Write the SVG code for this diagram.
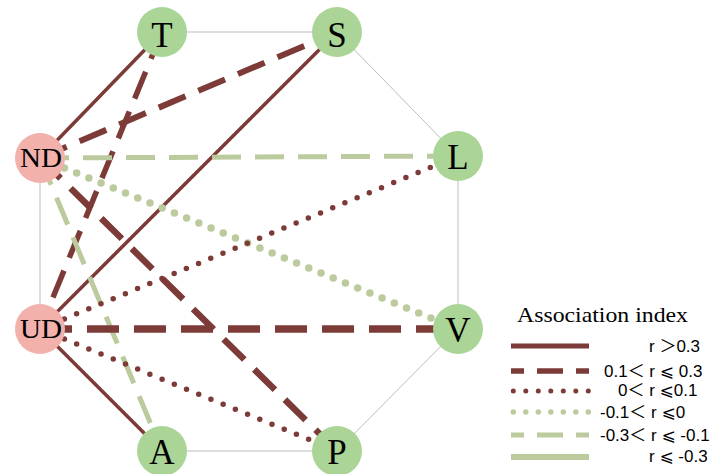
<svg xmlns="http://www.w3.org/2000/svg" width="712" height="474" viewBox="0 0 712 474">
<style>
.frame{fill:none;stroke:#bdbdbd;stroke-width:1}
.c{fill:none;stroke-linecap:butt}
.pr{stroke:#7d3b38}
.ng{stroke:#bccb9e}
.solid{stroke-width:3.5}
.dash{stroke-width:6;stroke-dasharray:29 14}
.dot{stroke-width:5.5;stroke-dasharray:0 13.2;stroke-linecap:round}
.gdot{stroke-width:7.5;stroke-dasharray:0 13.2;stroke-linecap:round}
.gdash{stroke-width:5;stroke-dasharray:29 14}
.ng-node{fill:#aad596}
.pk-node{fill:#f2b1ab}
.big{font-family:"Liberation Serif","Times New Roman",serif;font-size:35px;fill:#000;text-anchor:middle}
.small{font-family:"Liberation Serif","Times New Roman",serif;font-size:27px;fill:#000;text-anchor:middle}
.lt{font-family:"Liberation Serif","Times New Roman",serif;font-size:21px;fill:#000}
.lg{font-family:"Liberation Sans","Noto Sans CJK SC","DejaVu Sans",sans-serif;font-size:17px;fill:#000}
</style>
<rect width="712" height="474" fill="#fff"/>
<polygon class="frame" points="162,32 337,32 458,156 458,329 337,451 162,451 40,329 40,158"/>
<g id="connectors">
<line class="c pr solid" x1="40" y1="158" x2="162" y2="32"/>
<line class="c pr dash" x1="40" y1="158" x2="337" y2="32"/>
<line class="c pr dash" style="stroke-width:5.5" x1="162" y1="32" x2="40" y2="329"/>
<line class="c pr solid" x1="337" y1="32" x2="40" y2="329"/>
<line class="c ng gdash" x1="40" y1="158" x2="458" y2="156"/>
<line class="c ng gdot" x1="40" y1="158" x2="458" y2="329"/>
<line class="c ng gdash" x1="40" y1="158" x2="162" y2="451"/>
<line class="c pr dash" style="stroke-width:6.5" x1="40" y1="158" x2="337" y2="451"/>
<line class="c pr dot" x1="40" y1="329" x2="458" y2="156"/>
<line class="c pr dash" style="stroke-width:7.5;stroke-dasharray:32 15" x1="40" y1="329" x2="458" y2="329"/>
<line class="c pr dot" x1="40" y1="329" x2="337" y2="451"/>
<line class="c pr solid" x1="40" y1="329" x2="162" y2="451"/>
</g>
<g id="node-T"><circle class="ng-node" cx="162" cy="32" r="25"/><text class="big" x="162" y="47">T</text></g>
<g id="node-S"><circle class="ng-node" cx="337" cy="32" r="25"/><text class="big" x="337" y="47">S</text></g>
<g id="node-ND"><circle class="pk-node" cx="40" cy="158" r="25"/><text class="small" x="41" y="167" textLength="42" lengthAdjust="spacingAndGlyphs">ND</text></g>
<g id="node-L"><circle class="ng-node" cx="458" cy="156" r="25"/><text class="big" x="458" y="169">L</text></g>
<g id="node-UD"><circle class="pk-node" cx="40" cy="329" r="25"/><text class="small" x="41" y="338" textLength="42" lengthAdjust="spacingAndGlyphs">UD</text></g>
<g id="node-V"><circle class="ng-node" cx="458" cy="329" r="25"/><text class="big" x="458" y="342">V</text></g>
<g id="node-A"><circle class="ng-node" cx="162" cy="451" r="25"/><text class="big" x="162" y="464">A</text></g>
<g id="node-P"><circle class="ng-node" cx="337" cy="451" r="25"/><text class="big" x="337" y="464">P</text></g>
<g id="legend">
<text class="lt" x="517" y="322" textLength="171" lengthAdjust="spacingAndGlyphs">Association index</text>
<line class="c pr" style="stroke-width:5" x1="511" y1="346" x2="589" y2="346"/>
<line class="c pr" style="stroke-width:5.5;stroke-dasharray:26 13;stroke-dashoffset:13" x1="511" y1="371" x2="589" y2="371"/>
<line class="c pr" style="stroke-width:5;stroke-dasharray:0 12.5;stroke-linecap:round" x1="513.3" y1="391" x2="589" y2="391"/>
<line class="c ng" style="stroke-width:5.5;stroke-dasharray:0 12.5;stroke-linecap:round" x1="513.3" y1="412" x2="589" y2="412"/>
<line class="c ng" style="stroke-width:5;stroke-dasharray:26 13;stroke-dashoffset:13" x1="511" y1="435" x2="589" y2="435"/>
<line class="c ng" style="stroke-width:6" x1="511" y1="457" x2="589" y2="457"/>
<text class="lg" x="649" y="352">r ＞0.3</text>
<text class="lg" x="604" y="377">0.1＜ r ⩽ 0.3</text>
<text class="lg" x="618" y="396">0＜ r ⩽0.1</text>
<text class="lg" x="600" y="418">-0.1＜ r ⩽0</text>
<text class="lg" x="600" y="441">-0.3＜ r ⩽ -0.1</text>
<text class="lg" x="649" y="462">r ⩽ -0.3</text>
</g>
</svg>
